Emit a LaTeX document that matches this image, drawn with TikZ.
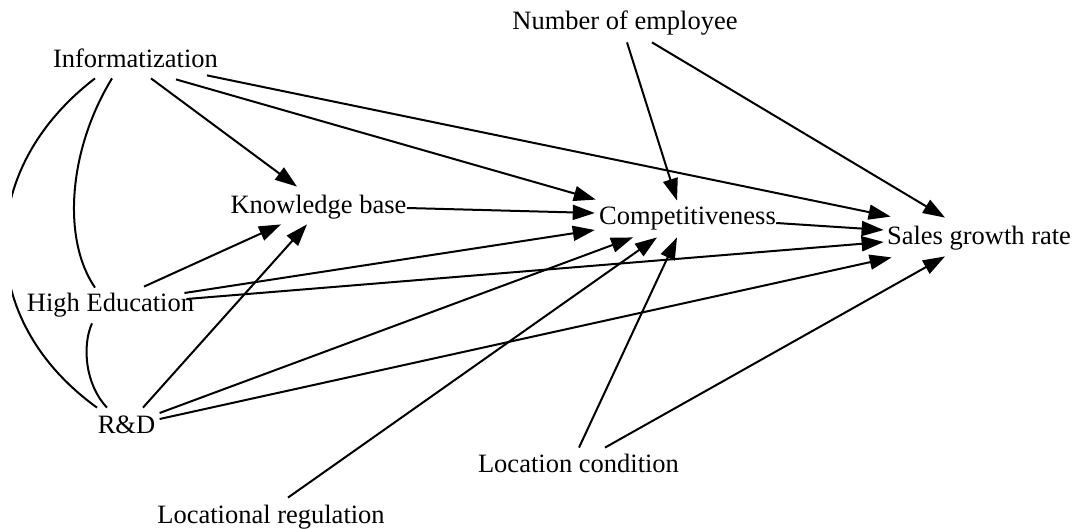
\documentclass[tikz,border=0pt]{standalone}
\usepackage{fontspec}
\setmainfont{Liberation Serif}
\usetikzlibrary{arrows.meta,calc}
\begin{document}
\begin{tikzpicture}[x=0.5pt,y=-0.5pt,
  lbl/.style={inner xsep=1pt,inner ysep=0pt,minimum height=18pt,text height=9pt,text depth=1pt,
    font=\fontsize{13.25pt}{15pt}\selectfont},
  arr/.style={line width=1pt,-{Triangle[length=11pt,width=7.5pt]}},
  lnk/.style={line width=1pt}]
\useasboundingbox (0,0) rectangle (1076,529);
\node[lbl] (info) at (135.5,60) {Informatization};
\node[lbl] (emp) at (625,22) {Number of employee};
\node[lbl] (kb) at (318.5,206) {Knowledge base};
\node[lbl] (comp) at (687.5,217) {Competitiveness};
\node[lbl] (sales) at (979,237) {Sales growth rate};
\node[lbl] (hed) at (110.5,304) {High Education};
\node[lbl] (rd) at (126.5,425) {R\&D};
\node[lbl] (loccond) at (578.5,464) {Location condition};
\node[lbl] (locreg) at (271,515) {Locational regulation};
% undirected links
\begin{scope}
\clip (12,0) rectangle (1076,529);
\draw[lnk] ($(info.south)+(-40.5,0)$) .. controls +(-120,92) and +(-122,-88) .. ($(rd.north)+(-29.5,1)$);
\end{scope}
\draw[lnk] ($(info.south)+(-23.5,0)$) .. controls +(-44,72) and +(-33,-48) .. ($(hed.north)+(-15.5,2)$);
\draw[lnk] ($(hed.south)+(-18.5,1)$) .. controls +(-10,22) and +(-22,-23) .. ($(rd.north)+(-19.5,1)$);
% directed edges
\draw[arr] ($(info.south)+(15.5,0)$) -- ($(kb.north)+(-21.5,-1)$);
\draw[arr] ($(info.south)+(40.5,1)$) -- ($(comp.north west)+(-1,1)$);
\draw[arr] ($(info.south)+(71.5,-3)$) -- ($(sales.north west)+(6,-2)$);
\draw[arr] ($(emp.south)+(2,2)$) -- ($(comp.north)+(-10.5,2)$);
\draw[arr] ($(emp.south)+(27,2)$) -- ($(sales.north)+(-34,-1)$);
\draw[arr] ($(kb.east)+(-2,2)$) -- ($(comp.west)+(-2,-4)$);
\draw[arr] ($(comp.east)+(-2,6)$) -- ($(sales.west)+(-1,-7)$);
\draw[arr] ($(hed.north)+(33.5,1)$) -- ($(kb.south)+(-37.5,0)$);
\draw[arr] ($(hed.east)+(-12,-11)$) -- ($(comp.west)+(-2,13)$);
\draw[arr] ($(hed.east)+(-10,-5)$) -- ($(sales.west)+(-1,5)$);
\draw[arr] ($(rd.north)+(16.5,1)$) -- ($(kb.south)+(-11.5,0)$);
\draw[arr] ($(rd.east)+(2,-12)$) -- ($(comp.south)+(-54.5,2)$);
\draw[arr] ($(rd.east)+(2,-6)$) -- ($(sales.south west)+(7,2)$);
\draw[arr] ($(locreg.north)+(17,1)$) -- ($(comp.south)+(-30.5,2)$);
\draw[arr] ($(loccond.north)+(0.5,2)$) -- ($(comp.south)+(-10.5,2)$);
\draw[arr] ($(loccond.north)+(26.5,2)$) -- ($(sales.south)+(-34,1)$);
\end{tikzpicture}
\end{document}
